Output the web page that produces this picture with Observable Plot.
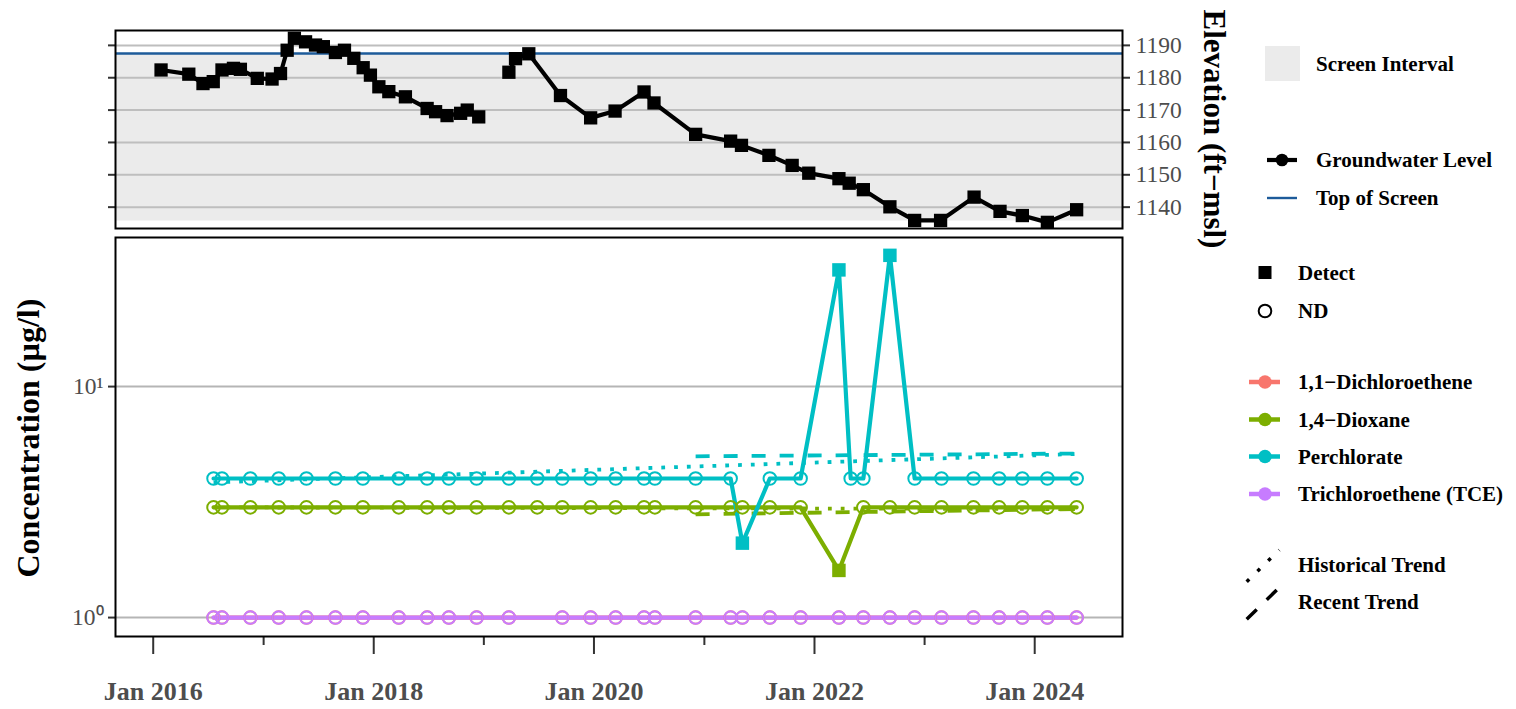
<!DOCTYPE html>
<html>
<head>
<meta charset="utf-8">
<script src="https://cdn.jsdelivr.net/npm/d3@7"></script>
<script src="https://cdn.jsdelivr.net/npm/@observablehq/plot@0.6"></script>
<style>
  html, body { margin: 0; padding: 0; background: #fff; }
  #wrap { position: relative; width: 1516px; height: 709px; overflow: hidden; font-family: "Liberation Serif", "Times New Roman", serif; }
  #wrap > * { position: absolute; }
  .axis-title { font-weight: bold; color: #000; white-space: nowrap; transform-origin: 0 0; }
</style>
</head>
<body>
<div id="wrap">
  <div id="top" style="left:0;top:0"></div>
  <div id="bottom" style="left:0;top:232px"></div>
  <div class="axis-title" id="elevTitle" style="font-size:31px">Elevation (ft−msl)</div>
  <div class="axis-title" id="concTitle" style="font-size:32px">Concentration (µg/l)</div>
  <div id="legend" style="left:1240px;top:0"></div>
</div>
<script>
// ---- Groundwater elevation (ft above mean sea level) ----
const gwDates = [
  "2016-01-27","2016-04-28","2016-06-14","2016-07-18","2016-08-16","2016-09-23","2016-10-16","2016-12-11",
  "2017-01-29","2017-02-26","2017-03-20","2017-04-13","2017-05-20","2017-06-22","2017-07-18","2017-08-27",
  "2017-09-26","2017-10-27","2017-11-27","2017-12-21","2018-01-18","2018-02-20","2018-04-16","2018-06-27",
  "2018-07-25","2018-09-01","2018-10-16","2018-11-07","2018-12-15","2019-01-20","2019-03-25","2019-04-16",
  "2019-05-30","2019-09-12","2019-12-21","2020-03-11","2020-06-15","2020-07-18","2020-12-03","2021-03-29",
  "2021-05-04","2021-08-03","2021-10-19","2021-12-13","2022-03-23","2022-04-26","2022-06-12","2022-09-08",
  "2022-11-29","2023-02-23","2023-06-14","2023-09-08","2023-11-21","2024-02-12","2024-05-19"
];
const gwElevation = [
  1182.4, 1181.1, 1178.2, 1178.8, 1182.4, 1182.9, 1182.6, 1179.8,
  1179.6, 1181.3, 1188.5, 1192.2, 1191.1, 1190.1, 1189.6, 1187.8,
  1188.5, 1186.0, 1183.1, 1180.8, 1177.2, 1175.7, 1174.1, 1170.5,
  1169.5, 1168.3, 1169.0, 1170.0, 1167.9, null, 1181.7, 1185.9,
  1187.4, 1174.5, 1167.6, 1169.7, 1175.6, 1172.2, 1162.5, 1160.4,
  1159.1, 1156.0, 1152.9, 1150.5, 1148.8, 1147.4, 1145.4, 1140.1,
  1135.9, 1135.9, 1143.1, 1138.7, 1137.4, 1135.3, 1139.2
];
const topOfScreen = 1187.5;
const screenBottom = 1135.7;
const elevTicks = [1140, 1150, 1160, 1170, 1180, 1190];

// ---- Water-quality samples (µg/l); null = not sampled ----
const sampleDates = [
  "2016-07-19","2016-08-16","2016-11-18","2017-02-20","2017-05-23","2017-08-27","2017-11-26","2018-03-25",
  "2018-06-27","2018-09-07","2018-12-08","2019-03-25","2019-06-27","2019-09-18","2019-12-21","2020-03-13",
  "2020-06-15","2020-07-21","2020-12-03","2021-03-29","2021-05-07","2021-08-06","2021-11-16","2022-03-23",
  "2022-05-01","2022-06-12","2022-09-08","2022-11-29","2023-02-26","2023-06-12","2023-09-05","2023-11-21",
  "2024-02-12","2024-05-19"
];
const analytes = ["1,1−Dichloroethene", "1,4−Dioxane", "Perchlorate", "Trichloroethene (TCE)"];
const analyteColors = ["#F8766D", "#7CAE00", "#00BFC4", "#C77CFF"];
const dceValue = [1,1,1,1,1,1,1,1, 1,1,1,1,null,1,1,1, 1,1,1,1,1,1,1,1, null,1,1,1,1,1,1,1, 1,1];
const dceDetect = [0,0,0,0,0,0,0,0, 0,0,0,0,0,0,0,0, 0,0,0,0,0,0,0,0, 0,0,0,0,0,0,0,0, 0,0];
const dioxaneValue = [3,3,3,3,3,3,3,3, 3,3,3,3,3,3,3,3, 3,3,3,3,3,3,3,1.6, null,3,3,3,3,3,3,3, 3,3];
const dioxaneDetect = [0,0,0,0,0,0,0,0, 0,0,0,0,0,0,0,0, 0,0,0,0,0,0,0,1, 0,0,0,0,0,0,0,0, 0,0];
const perchlorateValue = [4,4,4,4,4,4,4,4, 4,4,4,4,4,4,4,4, 4,4,4,4,2.1,4,4,32, 4,4,37,4,4,4,4,4, 4,4];
const perchlorateDetect = [0,0,0,0,0,0,0,0, 0,0,0,0,0,0,0,0, 0,0,0,0,1,0,0,1, 0,0,1,0,0,0,0,0, 0,0];
const tceValue = [1,1,1,1,1,1,1,1, 1,1,1,1,null,1,1,1, 1,1,1,1,1,1,1,1, null,1,1,1,1,1,1,1, 1,1];
const tceDetect = [0,0,0,0,0,0,0,0, 0,0,0,0,0,0,0,0, 0,0,0,0,0,0,0,0, 0,0,0,0,0,0,0,0, 0,0];
const concTicks = [1, 10];
const concTickLabels = ["10⁰", "10¹"];

// ---- Trend lines (start/end of each fitted trend) ----
const trendAnalyte = ["Perchlorate", "Perchlorate", "1,4−Dioxane", "1,4−Dioxane"];
const trendKind = ["Historical", "Recent", "Historical", "Recent"];
const trendStart = ["2016-07-19", "2020-12-03", "2016-07-19", "2020-12-03"];
const trendEnd = ["2024-05-19", "2024-05-19", "2024-05-19", "2024-05-19"];
const trendStartValue = [3.85, 4.99, 3.0, 2.8];
const trendEndValue = [5.11, 5.13, 2.95, 2.95];

const xMajorTicks = ["2016-01-01", "2018-01-01", "2020-01-01", "2022-01-01", "2024-01-01"];
const xMinorTicks = ["2017-01-01", "2019-01-01", "2021-01-01", "2023-01-01"];
const xDomain = ["2015-08-29", "2024-10-18"];

// ---- build tables ----
const parse = d3.utcParse("%Y-%m-%d");
const gw = gwDates.map((d, i) => ({date: parse(d), elev: gwElevation[i]}));
const seriesValues = [dceValue, dioxaneValue, perchlorateValue, tceValue];
const seriesDetect = [dceDetect, dioxaneDetect, perchlorateDetect, tceDetect];
const samples = [];
analytes.forEach((a, k) => {
  sampleDates.forEach((d, i) => {
    if (seriesValues[k][i] != null) {
      samples.push({analyte: a, date: parse(d), value: seriesValues[k][i], detect: seriesDetect[k][i] === 1});
    }
  });
});
const trends = [];
trendAnalyte.forEach((a, i) => {
  const key = a + " " + trendKind[i];
  trends.push({key, analyte: a, kind: trendKind[i], date: parse(trendStart[i]), value: trendStartValue[i]});
  trends.push({key, analyte: a, kind: trendKind[i], date: parse(trendEnd[i]), value: trendEndValue[i]});
});
const colorOf = new Map(analytes.map((a, i) => [a, analyteColors[i]]));

const W = 1240, ML = 115, MR = 118;
const baseStyle = {fontFamily: "Liberation Serif", fontSize: "23.5px", color: "#4D4D4D", background: "transparent", overflow: "visible"};
const x = {type: "utc", domain: xDomain.map(parse)};

// ---- upper panel: groundwater level ----
const topPlot = Plot.plot({
  width: W, height: 232, marginLeft: ML, marginRight: MR, marginTop: 30, marginBottom: 4,
  style: baseStyle,
  x: {...x, axis: null},
  y: {domain: [1133.4, 1194.6]},
  marks: [
    Plot.rect([{y1: screenBottom, y2: topOfScreen}], {y1: "y1", y2: "y2", fill: "#EBEBEB"}),
    Plot.gridY(elevTicks, {stroke: "#BEBEBE", strokeOpacity: 1, strokeWidth: 2}),
    Plot.ruleY([topOfScreen], {stroke: "#1D5B9A", strokeWidth: 2.4}),
    Plot.line(gw, {x: "date", y: "elev", stroke: "black", strokeWidth: 4.2}),
    Plot.dot(gw, {x: "date", y: "elev", symbol: "square", r: 7.5, fill: "black", stroke: null}),
    Plot.axisY(elevTicks, {anchor: "right", tickSize: 7, tickPadding: 6, label: null, tickFormat: d3.format("d"), stroke: "#333", strokeWidth: 2, fill: "#4D4D4D"}),
    Plot.axisY(elevTicks, {anchor: "left", tickSize: 7, label: null, stroke: "#333", strokeWidth: 2, fill: "none"}),
    Plot.frame({stroke: "black", strokeWidth: 2})
  ]
});
document.getElementById("top").append(topPlot);

// ---- lower panel: concentrations ----
const byAnalyte = {x: "date", y: "value", z: "analyte", stroke: d => colorOf.get(d.analyte)};
const bottomPlot = Plot.plot({
  width: W, height: 477, marginLeft: ML, marginRight: MR, marginTop: 5, marginBottom: 73,
  style: baseStyle,
  x,
  y: {type: "log", domain: [0.828, 44.2]},
  marks: [
    Plot.gridY(concTicks, {stroke: "#B5B5B5", strokeOpacity: 1, strokeWidth: 2}),
    Plot.line(trends.filter(d => d.kind === "Historical"), {x: "date", y: "value", z: "key", stroke: d => colorOf.get(d.analyte), strokeWidth: 3.8, strokeDasharray: "3.8,9", strokeLinecap: "butt"}),
    Plot.line(trends.filter(d => d.kind === "Recent"), {x: "date", y: "value", z: "key", stroke: d => colorOf.get(d.analyte), strokeWidth: 3.8, strokeDasharray: "14,14", strokeLinecap: "butt"}),
    ...analytes.map(a => Plot.line(samples.filter(d => d.analyte === a), {...byAnalyte, strokeWidth: 4.2})),
    ...analytes.map(a => Plot.dot(samples.filter(d => d.analyte === a && !d.detect), {x: "date", y: "value", r: 6.3, stroke: colorOf.get(a), strokeWidth: 2, fill: "none"})),
    ...analytes.map(a => Plot.dot(samples.filter(d => d.analyte === a && d.detect), {x: "date", y: "value", symbol: "square", r: 7.6, fill: colorOf.get(a), stroke: null})),
    Plot.axisY(concTicks, {anchor: "left", tickSize: 7, tickPadding: 5, label: null, tickFormat: d => concTickLabels[concTicks.indexOf(d)], stroke: "#333", strokeWidth: 2, fill: "#4D4D4D"}),
    Plot.axisX(xMajorTicks.map(parse), {anchor: "bottom", tickSize: 18, tickPadding: 27, label: null, tickFormat: d3.utcFormat("%b %Y"), stroke: "#333", strokeWidth: 2, fill: "#4D4D4D", fontWeight: "bold", fontSize: 26}),
    Plot.axisX(xMinorTicks.map(parse), {anchor: "bottom", tickSize: 9, label: null, stroke: "#333", strokeWidth: 2, fill: "none"}),
    Plot.frame({stroke: "black", strokeWidth: 2})
  ]
});
document.getElementById("bottom").append(bottomPlot);

// ---- rotated axis titles ----
function placeTitle(id, cx, cy, angle) {
  const el = document.getElementById(id);
  const w = el.offsetWidth, h = el.offsetHeight;
  el.style.left = cx + "px";
  el.style.top = cy + "px";
  el.style.transform = `rotate(${angle}deg) translate(${-w / 2}px, ${-h / 2}px)`;
}
placeTitle("elevTitle", 1214, 129, 90);
placeTitle("concTitle", 28, 438, -90);

// ---- legend ----
const legend = d3.select("#legend").append("svg")
  .attr("width", 276).attr("height", 709)
  .style("font-family", "Liberation Serif").style("font-weight", "bold").style("font-size", "21px");
function label(xp, yp, t) {
  legend.append("text").attr("x", xp).attr("y", yp).attr("dy", "0.35em").attr("fill", "#000").text(t);
}
legend.append("rect").attr("x", 25).attr("y", 46).attr("width", 35).attr("height", 35).attr("fill", "#EBEBEB");
label(76, 64, "Screen Interval");
legend.append("line").attr("x1", 27).attr("x2", 57).attr("y1", 160).attr("y2", 160).attr("stroke", "#000").attr("stroke-width", 4.2);
legend.append("circle").attr("cx", 42).attr("cy", 160).attr("r", 6.3).attr("fill", "#000");
label(76, 160, "Groundwater Level");
legend.append("line").attr("x1", 27).attr("x2", 57).attr("y1", 198).attr("y2", 198).attr("stroke", "#1D5B9A").attr("stroke-width", 2.4);
label(76, 198, "Top of Screen");
legend.append("rect").attr("x", 18.5).attr("y", 266).attr("width", 13).attr("height", 13).attr("fill", "#000");
label(58, 272.5, "Detect");
legend.append("circle").attr("cx", 25).attr("cy", 311).attr("r", 6.3).attr("fill", "none").attr("stroke", "#000").attr("stroke-width", 2);
label(58, 311, "ND");
const keyY = [382, 419.5, 456.5, 494];
analytes.forEach((a, i) => {
  legend.append("line").attr("x1", 9).attr("x2", 40).attr("y1", keyY[i]).attr("y2", keyY[i]).attr("stroke", analyteColors[i]).attr("stroke-width", 4.5);
  legend.append("circle").attr("cx", 25).attr("cy", keyY[i]).attr("r", 6.7).attr("fill", analyteColors[i]);
  label(58, keyY[i], a);
});
legend.append("line").attr("x1", 6.7).attr("y1", 581.7).attr("x2", 39.3).attr("y2", 550).attr("stroke", "#000").attr("stroke-width", 3.5).attr("stroke-dasharray", "3.5,11.5");
label(58, 565, "Historical Trend");
legend.append("line").attr("x1", 6.7).attr("y1", 619.3).attr("x2", 36.7).attr("y2", 590).attr("stroke", "#000").attr("stroke-width", 3.5).attr("stroke-dasharray", "14,14");
label(58, 602, "Recent Trend");
</script>
</body>
</html>
